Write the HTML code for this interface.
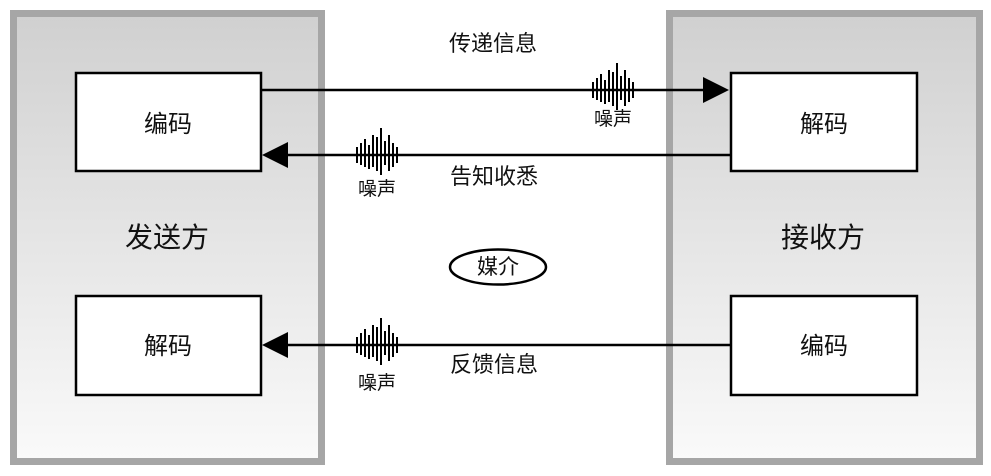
<!DOCTYPE html>
<html><head><meta charset="utf-8">
<style>
html,body{margin:0;padding:0;background:#fff;}
svg{display:block;}
text{font-family:"Liberation Sans","Noto Sans CJK SC",sans-serif;fill:#111;}
</style></head>
<body>
<svg width="991" height="476" viewBox="0 0 991 476" xmlns="http://www.w3.org/2000/svg">
<defs>
<linearGradient id="g" x1="0" y1="0" x2="0" y2="1">
<stop offset="0" stop-color="#d0d0d0"/>
<stop offset="1" stop-color="#fafafa"/>
</linearGradient>
<g id="noise" fill="#000">
<rect x="0" y="-8" width="2" height="16"/>
<rect x="4" y="-12" width="2" height="22"/>
<rect x="8" y="-16" width="2" height="28"/>
<rect x="12" y="-10" width="2" height="24"/>
<rect x="16" y="-20" width="2" height="32"/>
<rect x="20" y="-18" width="2" height="34"/>
<rect x="24" y="-27" width="2" height="47"/>
<rect x="28" y="-14" width="2" height="24"/>
<rect x="32" y="-20" width="2" height="36"/>
<rect x="36" y="-12" width="2" height="24"/>
<rect x="40" y="-8" width="2" height="16"/>
</g>
</defs>
<!-- panels -->
<rect x="13.5" y="13.5" width="308" height="448" fill="url(#g)" stroke="#a6a6a6" stroke-width="7"/>
<rect x="669.5" y="13.5" width="310" height="448" fill="url(#g)" stroke="#a6a6a6" stroke-width="7"/>

<!-- lines -->
<line x1="262" y1="90" x2="705" y2="90" stroke="#000" stroke-width="2.5"/>
<polygon points="703,77 729,90 703,103" fill="#000"/>
<line x1="730" y1="155" x2="286" y2="155" stroke="#000" stroke-width="2.5"/>
<polygon points="288,142 262,155 288,168" fill="#000"/>
<line x1="730" y1="345" x2="286" y2="345" stroke="#000" stroke-width="2.5"/>
<polygon points="288,332 262,345 288,358" fill="#000"/>

<!-- boxes -->
<rect x="76" y="73" width="185" height="98" fill="#fff" stroke="#000" stroke-width="2.5"/>
<rect x="731" y="73" width="186" height="98" fill="#fff" stroke="#000" stroke-width="2.5"/>
<rect x="76" y="296" width="185" height="99" fill="#fff" stroke="#000" stroke-width="2.5"/>
<rect x="731" y="296" width="186" height="99" fill="#fff" stroke="#000" stroke-width="2.5"/>

<text x="168" y="132" font-size="24" text-anchor="middle">编码</text>
<text x="824" y="132" font-size="24" text-anchor="middle">解码</text>
<text x="168" y="354" font-size="24" text-anchor="middle">解码</text>
<text x="824" y="354" font-size="24" text-anchor="middle">编码</text>

<text x="167" y="247" font-size="28" text-anchor="middle">发送方</text>
<text x="823" y="247" font-size="28" text-anchor="middle">接收方</text>

<text x="493" y="51" font-size="22" text-anchor="middle">传递信息</text>
<text x="494" y="184" font-size="22" text-anchor="middle">告知收悉</text>
<text x="494" y="372" font-size="22" text-anchor="middle">反馈信息</text>

<!-- noise -->
<use href="#noise" x="592" y="90"/>
<use href="#noise" x="356" y="155"/>
<use href="#noise" x="356" y="345"/>
<text x="613" y="125" font-size="19" text-anchor="middle">噪声</text>
<text x="377" y="195" font-size="19" text-anchor="middle">噪声</text>
<text x="377" y="389" font-size="19" text-anchor="middle">噪声</text>

<!-- medium -->
<ellipse cx="498" cy="267" rx="48" ry="17.5" fill="#fff" stroke="#000" stroke-width="2.5"/>
<text x="498" y="274" font-size="21" text-anchor="middle">媒介</text>
</svg>
</body></html>
